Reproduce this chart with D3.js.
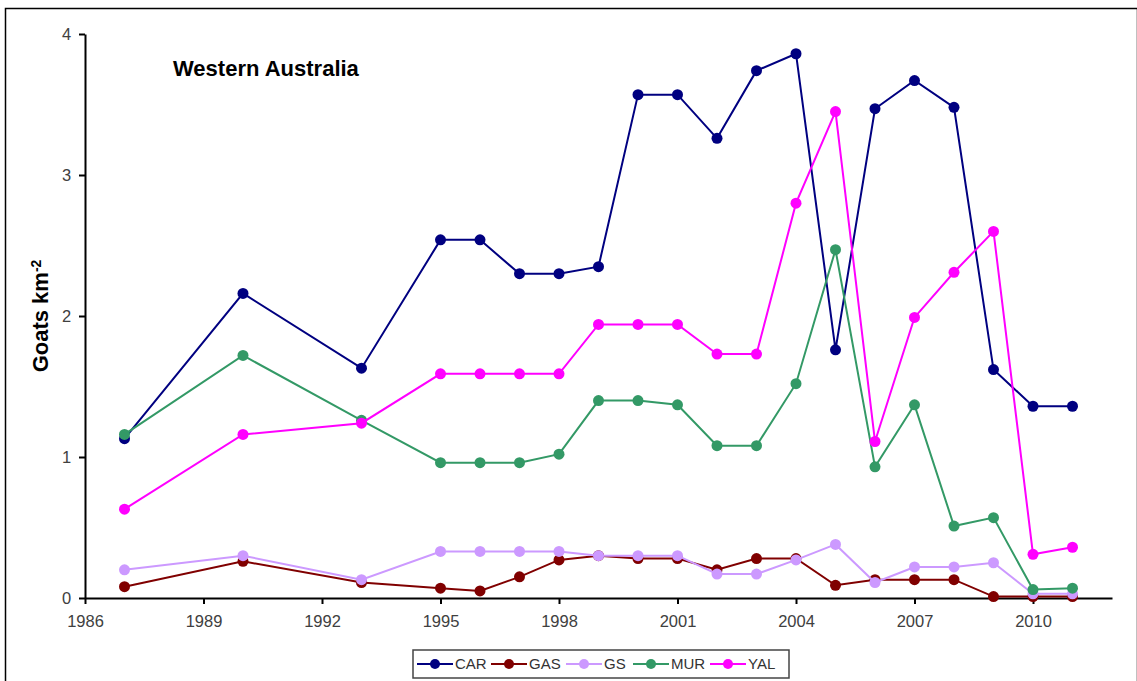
<!DOCTYPE html>
<html>
<head>
<meta charset="utf-8">
<script src="https://cdn.jsdelivr.net/npm/d3@7"></script>
<style>
  body { margin: 0; background: #fff; }
  svg { font-family: "Liberation Sans", Arial, sans-serif; }
</style>
</head>
<body>
<div id="chart"></div>
<script>
// data
var years = [1987, 1990, 1993, 1995, 1996, 1997, 1998, 1999, 2000, 2001, 2002, 2003, 2004, 2005, 2006, 2007, 2008, 2009, 2010, 2011];
var seriesNames = ["CAR", "GAS", "GS", "MUR", "YAL"];
var carValues = [1.13, 2.16, 1.63, 2.54, 2.54, 2.30, 2.30, 2.35, 3.57, 3.57, 3.26, 3.74, 3.86, 1.76, 3.47, 3.67, 3.48, 1.62, 1.36, 1.36];
var gasValues = [0.08, 0.26, 0.11, 0.07, 0.05, 0.15, 0.27, 0.30, 0.28, 0.28, 0.20, 0.28, 0.28, 0.09, 0.13, 0.13, 0.13, 0.01, 0.01, 0.01];
var gsValues  = [0.20, 0.30, 0.13, 0.33, 0.33, 0.33, 0.33, 0.30, 0.30, 0.30, 0.17, 0.17, 0.27, 0.38, 0.11, 0.22, 0.22, 0.25, 0.03, 0.03];
var murValues = [1.16, 1.72, 1.26, 0.96, 0.96, 0.96, 1.02, 1.40, 1.40, 1.37, 1.08, 1.08, 1.52, 2.47, 0.93, 1.37, 0.51, 0.57, 0.06, 0.07];
var yalValues = [0.63, 1.16, 1.24, 1.59, 1.59, 1.59, 1.59, 1.94, 1.94, 1.94, 1.73, 1.73, 2.80, 3.45, 1.11, 1.99, 2.31, 2.60, 0.31, 0.36];
var xTicks = [1986, 1989, 1992, 1995, 1998, 2001, 2004, 2007, 2010];
var yTicks = [0, 1, 2, 3, 4];
var colors = ["#000080", "#800000", "#cc99ff", "#339966", "#ff00ff"];

function main() {
    var W = 1137, H = 681;
    var margin = { top: 34, left: 85, right: 25, bottom: 83 },
    width = W - margin.left - margin.right,
    height = H - margin.top - margin.bottom;

    var svg = d3.select("#chart")
    .append("svg")
    .attr("width", W)
    .attr("height", H);

    // outer frame
    svg.append("rect")
    .attr("x", 5.5).attr("y", 8.5)
    .attr("width", W - 5).attr("height", H)
    .attr("fill", "none")
    .attr("stroke", "#000")
    .attr("stroke-width", 1.5);

    var g = svg.append("g")
    .attr("transform", "translate(" + margin.left + "," + margin.top + ")");

    var x = d3.scaleLinear().domain([1986, 2012]).range([0, width]);
    var y = d3.scaleLinear().domain([0, 4]).range([height, 0]);

    var series = [carValues, gasValues, gsValues, murValues, yalValues].map(function(vals, i) {
        return { name: seriesNames[i], color: colors[i],
                 pts: years.map(function(yr, j) { return { x: yr, y: vals[j] }; }) };
    });

    // axes
    var xAxis = g.append("g")
    .attr("transform", "translate(0," + height + ")")
    .call(d3.axisBottom(x).tickValues(xTicks).tickFormat(d3.format("d")).tickSize(6).tickSizeOuter(0));
    var yAxis = g.append("g")
    .call(d3.axisLeft(y).tickValues(yTicks).tickFormat(d3.format("d")).tickSize(6).tickSizeOuter(0));

    [xAxis, yAxis].forEach(function(a) {
        a.attr("font-size", null).attr("font-family", null);
        a.select(".domain").attr("stroke", "#000").attr("stroke-width", 2);
        a.selectAll(".tick line").attr("stroke", "#000").attr("stroke-width", 2);
        a.selectAll(".tick text").attr("fill", "#404040").style("font-size", "16.5px");
    });
    xAxis.selectAll(".tick text").attr("dy", "1.2em");
    yAxis.selectAll(".tick text").attr("dx", "-0.3em");

    var line = d3.line().x(function(d) { return x(d.x); }).y(function(d) { return y(d.y); });

    series.forEach(function(s) {
        g.append("path")
        .datum(s.pts)
        .attr("d", line)
        .attr("fill", "none")
        .attr("stroke", s.color)
        .attr("stroke-width", 2);
        g.selectAll(".dot-" + s.name)
        .data(s.pts)
        .enter().append("circle")
        .attr("class", "dot-" + s.name)
        .attr("cx", function(d) { return x(d.x); })
        .attr("cy", function(d) { return y(d.y); })
        .attr("r", 5.5)
        .attr("fill", s.color);
    });

    // title inside plot
    svg.append("text")
    .attr("x", 173).attr("y", 76)
    .style("font-size", "22px").style("font-weight", "bold")
    .text("Western Australia");

    // y axis title
    var yl = svg.append("text")
    .attr("transform", "translate(48," + (margin.top + height / 2) + ") rotate(-90)")
    .attr("text-anchor", "middle")
    .style("font-size", "22px").style("font-weight", "bold");
    yl.append("tspan").text("Goats km");
    yl.append("tspan").attr("dy", "-0.5em").style("font-size", "14px").text("-2");

    // legend
    var lg = svg.append("g").attr("transform", "translate(413,650)");
    lg.append("rect")
    .attr("width", 376).attr("height", 28)
    .attr("fill", "#fff").attr("stroke", "#444").attr("stroke-width", 1.5);
    var offsets = [4, 78, 153, 220, 297];
    series.forEach(function(s, i) {
        var it = lg.append("g").attr("transform", "translate(" + offsets[i] + ",14)");
        it.append("line").attr("x1", 0).attr("x2", 36).attr("stroke", s.color).attr("stroke-width", 2);
        it.append("circle").attr("cx", 18).attr("r", 5).attr("fill", s.color);
        it.append("text").attr("x", 38).attr("dy", "0.35em")
        .style("font-size", "15px").attr("fill", "#333").text(s.name);
    });
}
main();
</script>
</body>
</html>
